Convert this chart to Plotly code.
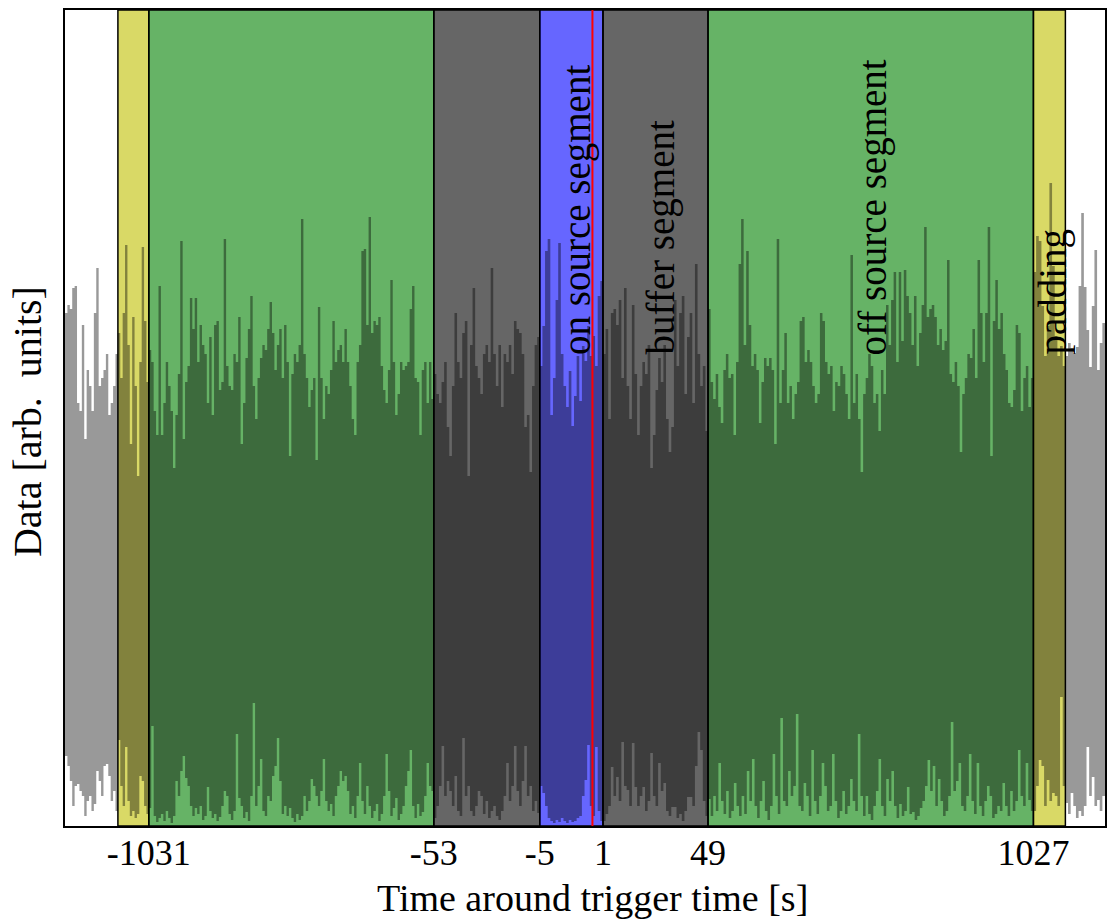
import numpy as np
import plotly.graph_objects as go

# ---------------------------------------------------------------------------
# Time layout (seconds around the trigger).  The horizontal axis is piecewise
# linear: every segment gets its own stretch of the drawing axis.
# ---------------------------------------------------------------------------
SEG_TIMES = [-1047, -1039, -1031, -53, -5, 1, 49, 1027, 1035, 1043]
SEG_AXIS = [0, 53, 84, 369.5, 475.7, 539, 644.3, 970.3, 1002.3, 1042]

TICK_TIMES = [-1031, -53, -5, 1, 49, 1027]
TICK_LABELS = ["-1031", "-53", "-5", "1", "49", "1027"]
TRIGGER_TIME = 0

# Shaded analysis segments: (start, end, fill colour)
REGIONS = [
    (-1039, -1031, "rgba(191,191,0,0.6)"),   # padding
    (-1031, -53, "rgba(0,128,0,0.6)"),       # off source
    (-53, -5, "rgba(0,0,0,0.6)"),            # buffer
    (-5, 1, "rgba(0,0,255,0.6)"),            # on source
    (1, 49, "rgba(0,0,0,0.6)"),              # buffer
    (49, 1027, "rgba(0,128,0,0.6)"),         # off source
    (1027, 1035, "rgba(191,191,0,0.6)"),     # padding
]

# ---------------------------------------------------------------------------
# Strain data envelope (arb. units), upper and lower edge of the trace,
# listed per segment from left to right.
# ---------------------------------------------------------------------------
UP_WHITE_L = [513, 521, 517, 538, 540, 423, 415, 501, 387, 456, 440, 415,
              513, 558, 440, 448, 456, 472, 411, 423, 440, 472, 501]
LO_WHITE_L = [40, 70, 60, 45, 20, 40, 42, 35, 30, 10, 25, 30, 15, 22, 55,
              45, 30, 60, 62, 50, 25, 35, 15]

UP_PAD_L = [493, 448, 513, 581, 481, 382, 509, 440, 350, 464, 579, 505,
            444, 464]
LO_PAD_L = [30, 86, 40, 20, 79, 25, 10, 15, 8, 12, 50, 45, 20, 12]

UP_OFF_L = [476, 464, 415, 391, 540, 391, 423, 464, 440, 415, 358, 411,
            452, 585, 387, 444, 460, 528, 497, 528, 464, 501, 481, 472,
            423, 489, 411, 501, 505, 436, 444, 587, 460, 440, 436, 472,
            464, 509, 382, 423, 468, 497, 530, 440, 407, 448, 468, 481,
            476, 497, 524, 493, 456, 481, 497, 448, 501, 464, 370, 452,
            472, 464, 481, 607, 472, 448, 419, 436, 448, 366, 519, 448,
            407, 440, 432, 456, 505, 464, 476, 481, 464, 497, 464, 440,
            407, 391, 464, 481, 575, 577, 501, 609, 493, 505, 501, 509,
            460, 436, 423, 456, 546, 464, 411, 432, 464, 456, 460, 464,
            517, 540, 448, 444, 391, 456, 464, 423, 464, 427, 530]
LO_OFF_L = [22, 18, 100, 10, 4, 8, 12, 5, 15, 8, 3, 10, 45, 30, 55, 70,
            48, 40, 20, 10, 18, 12, 20, 6, 10, 39, 15, 8, 12, 5, 9, 20,
            35, 30, 12, 6, 15, 92, 28, 20, 8, 14, 5, 30, 123, 20, 40, 67,
            15, 10, 30, 25, 50, 60, 88, 45, 12, 20, 10, 18, 8, 4, 12, 6,
            10, 30, 15, 25, 47, 40, 30, 20, 35, 67, 25, 15, 22, 10, 30,
            40, 55, 45, 50, 35, 12, 20, 8, 30, 63, 25, 12, 40, 20, 8, 15,
            22, 5, 12, 30, 72, 35, 10, 18, 28, 6, 12, 20, 40, 55, 76, 20,
            8, 22, 10, 14, 30, 63, 40, 35]

UP_BUF_L = [452, 432, 423, 444, 464, 399, 370, 440, 513, 464, 448, 493,
            505, 350, 481, 538, 460, 448, 432, 472, 481, 464, 558, 472,
            440, 481, 419, 472, 464, 481, 452, 505, 497, 493, 472, 399,
            411, 354, 440, 481, 489, 530]
LO_BUF_L = [15, 8, 20, 40, 80, 30, 45, 35, 20, 50, 15, 10, 88, 30, 40, 15,
            10, 20, 35, 30, 12, 25, 8, 15, 20, 10, 6, 15, 30, 63, 25, 40,
            80, 35, 20, 45, 80, 30, 40, 15, 25, 13]

UP_ON = [460, 500, 575, 587, 411, 448, 526, 583, 472, 440, 419, 455, 400,
         430, 470, 425, 480, 465, 500, 470, 490, 460, 530, 545, 520]
LO_ON = [56, 40, 33, 20, 8, 5, 3, 6, 4, 8, 5, 3, 6, 4, 5, 8, 10, 30, 46,
         81, 20, 10, 79, 15, 5]

UP_BUF_R = [472, 497, 407, 513, 517, 501, 526, 448, 538, 440, 407, 521,
            452, 391, 440, 464, 452, 481, 358, 391, 436, 468, 444, 481,
            407, 374, 399, 526, 460, 513, 530, 432, 489, 513, 423, 562,
            472, 440, 460, 395, 464]
LO_BUF_R = [8, 5, 12, 20, 59, 30, 49, 25, 84, 40, 36, 20, 83, 39, 20, 30,
            39, 15, 25, 73, 30, 20, 63, 35, 43, 15, 10, 19, 19, 8, 12, 5,
            15, 29, 29, 20, 60, 94, 76, 25, 10]

UP_OFF_R = [517, 444, 427, 452, 419, 403, 456, 472, 448, 452, 391, 464,
            562, 607, 481, 575, 501, 460, 472, 456, 403, 444, 468, 460,
            468, 456, 382, 587, 423, 456, 493, 423, 440, 407, 432, 444,
            505, 509, 464, 476, 464, 440, 423, 432, 513, 505, 464, 452,
            460, 415, 444, 440, 460, 452, 432, 407, 571, 423, 452, 407,
            354, 432, 448, 472, 460, 423, 432, 395, 456, 432, 521, 481,
            526, 554, 464, 554, 485, 556, 530, 513, 481, 530, 460, 493,
            521, 599, 509, 517, 521, 509, 481, 497, 476, 485, 566, 452,
            444, 464, 440, 374, 432, 448, 472, 468, 497, 448, 566, 513,
            464, 513, 599, 370, 505, 546, 497, 513, 472, 456, 423, 419,
            436, 501, 493, 415, 448, 460, 419, 448, 554]
LO_OFF_R = [20, 27, 10, 30, 15, 63, 25, 12, 35, 8, 15, 43, 20, 10, 30, 12,
            55, 25, 67, 20, 8, 25, 45, 15, 6, 20, 72, 30, 12, 108, 25, 20,
            55, 30, 40, 112, 20, 15, 43, 30, 10, 76, 25, 12, 30, 63, 40,
            15, 20, 72, 25, 8, 15, 35, 12, 20, 47, 25, 15, 92, 30, 10, 30,
            12, 6, 20, 35, 67, 20, 10, 47, 25, 55, 20, 8, 22, 10, 15, 39,
            12, 14, 6, 10, 18, 25, 40, 66, 35, 60, 20, 47, 25, 10, 15, 30,
            104, 35, 45, 63, 20, 15, 30, 72, 25, 12, 63, 20, 10, 25, 40,
            30, 8, 12, 20, 15, 43, 20, 10, 35, 15, 25, 76, 30, 20, 63, 26,
            15]

UP_PAD_R = [554, 590, 585, 520, 470, 500, 643, 560, 490, 470, 480, 460,
            560]
LO_PAD_R = [10, 15, 40, 66, 60, 20, 46, 25, 33, 30, 20, 129, 40]

UP_WHITE_R = [470, 483, 478, 473, 479, 540, 613, 539, 496, 459, 520, 576,
              456, 483, 503, 496]
LO_WHITE_R = [10, 23, 12, 33, 20, 8, 15, 10, 20, 79, 30, 49, 20, 26, 15,
              30]

UPPER = [UP_WHITE_L, UP_PAD_L, UP_OFF_L, UP_BUF_L, UP_ON, UP_BUF_R,
         UP_OFF_R, UP_PAD_R, UP_WHITE_R]
LOWER = [LO_WHITE_L, LO_PAD_L, LO_OFF_L, LO_BUF_L, LO_ON, LO_BUF_R,
         LO_OFF_R, LO_PAD_R, LO_WHITE_R]

Y_RANGE = [0, 816]

SERIF = "Liberation Serif, Times New Roman, serif"


def to_axis(t):
    """Map trigger-relative time onto the piecewise-linear drawing axis."""
    return np.interp(t, SEG_TIMES, SEG_AXIS)


# Outline of the data trace: upper edge left->right, lower edge right->left.
up_x, up_y, lo_x, lo_y = [], [], [], []
for (t0, t1), up, lo in zip(zip(SEG_TIMES[:-1], SEG_TIMES[1:]), UPPER, LOWER):
    tu = np.linspace(t0, t1, len(up))
    tl = np.linspace(t0, t1, len(lo))
    up_x.extend(to_axis(tu))
    up_y.extend(up)
    lo_x.extend(to_axis(tl))
    lo_y.extend(lo)

poly_x = up_x + lo_x[::-1]
poly_y = up_y + lo_y[::-1]

fig = go.Figure()

fig.add_trace(go.Scatter(
    x=poly_x, y=poly_y,
    mode="lines",
    fill="toself",
    fillcolor="rgba(0,0,0,0.4)",
    line=dict(width=0, color="rgba(0,0,0,0)", shape="hv"),
    hoverinfo="skip",
    showlegend=False,
))

shapes = []
for t0, t1, color in REGIONS:
    shapes.append(dict(
        type="rect", xref="x", yref="paper",
        x0=to_axis(t0), x1=to_axis(t1), y0=0, y1=1,
        fillcolor=color, line=dict(color="black", width=1.5),
        layer="below",
    ))

trig = float(to_axis(TRIGGER_TIME))
shapes.append(dict(
    type="line", xref="x", yref="paper",
    x0=trig, x1=trig, y0=0, y1=1,
    line=dict(color="red", width=2), layer="above",
))

# Segment names, written vertically and sharing a common baseline
label_y = 0.5748
segment_labels = [
    ("on source segment", 513.0),
    ("buffer segment", 596.7),
    ("off source segment", 810.0),
    ("padding", 989.5),
]
annotations = []
for text, xpos in segment_labels:
    annotations.append(dict(
        text=text, x=xpos, y=label_y, xref="x", yref="paper",
        textangle=-90, showarrow=False,
        xanchor="center", yanchor="bottom",
        font=dict(family=SERIF, size=39, color="black"),
    ))

annotations.append(dict(
    text="Time around trigger time [s]",
    x=(594 - 65) / 1042, y=-0.088, xref="paper", yref="paper",
    xanchor="center", yanchor="middle", showarrow=False,
    font=dict(family=SERIF, size=38, color="black"),
))
annotations.append(dict(
    text="Data [arb.  units]",
    x=-0.0365, y=0.495, xref="paper", yref="paper",
    xanchor="center", yanchor="middle", textangle=-90, showarrow=False,
    font=dict(family=SERIF, size=40, color="black"),
))

fig.update_layout(
    width=1108, height=919,
    margin=dict(l=65, r=1, t=10, b=93),
    paper_bgcolor="white", plot_bgcolor="white",
    shapes=shapes, annotations=annotations,
    showlegend=False,
    xaxis=dict(
        range=[SEG_AXIS[0], SEG_AXIS[-1]],
        tickvals=[float(v) for v in to_axis(TICK_TIMES)],
        ticktext=TICK_LABELS,
        ticks="", showgrid=False, zeroline=False,
        showline=True, mirror=True, linecolor="black", linewidth=2,
        tickfont=dict(family=SERIF, size=36, color="black"),
        ticklabelstandoff=-6,
    ),
    yaxis=dict(
        range=Y_RANGE,
        showticklabels=False, ticks="", showgrid=False, zeroline=False,
        showline=True, mirror=True, linecolor="black", linewidth=2,
    ),
)

fig.write_html("out.html")
